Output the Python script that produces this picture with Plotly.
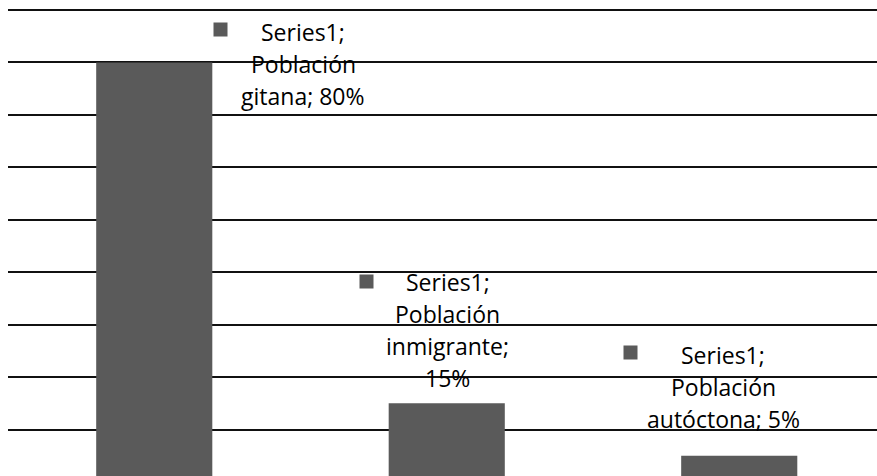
import plotly.graph_objects as go

# ---- data ----
series_name = "Series1"
categories = ["Población gitana", "Población inmigrante", "Población autóctona"]
values = [80, 15, 5]
gridline_values = [10, 20, 30, 40, 50, 60, 70, 80, 90]

# words per line for each data label (layout of the wrapped label text)
label_wrap = [[1, 1, 2], [1, 1, 1, 1], [1, 1, 2]]
# label placement relative to bar top / bar centre (pixels)
label_xshift = [149, 1, -16]
label_yshift_first = [30, 121, 101]
line_step = 32
key_shift = [(66, 33), (-80, 122), (-109, 103)]

bar_color = "#5a5a5a"
font_family = "Open Sans"
font_size = 23

fig = go.Figure()
fig.add_trace(go.Bar(
    x=categories, y=values,
    marker=dict(color=bar_color, line=dict(width=0)),
    width=0.397,
    hoverinfo="skip",
))

annotations = []
for i, (cat, val) in enumerate(zip(categories, values)):
    words = f"{series_name}; {cat}; {val}%".split()
    lines, k = [], 0
    for n in label_wrap[i]:
        lines.append(" ".join(words[k:k + n]))
        k += n
    for j, line in enumerate(lines):
        annotations.append(dict(
            x=cat, y=val, xref="x", yref="y", text=line, showarrow=False,
            xanchor="center", yanchor="middle",
            xshift=label_xshift[i], yshift=label_yshift_first[i] - j * line_step,
            font=dict(family=font_family, size=font_size, color="#000000"),
        ))
    kx, ky = key_shift[i]
    annotations.append(dict(
        x=cat, y=val, xref="x", yref="y", text=" ", showarrow=False,
        xanchor="center", yanchor="middle", xshift=kx, yshift=ky,
        width=13, height=13, bgcolor=bar_color, borderpad=0,
        font=dict(size=6),
    ))

fig.update_layout(
    width=877, height=476,
    margin=dict(l=8, r=0, t=0, b=0),
    paper_bgcolor="white", plot_bgcolor="white",
    showlegend=False,
    hovermode=False,
    annotations=annotations,
    xaxis=dict(range=[-0.5, 2.471], showticklabels=False, showgrid=False,
               zeroline=False, showline=False, ticks=""),
    yaxis=dict(range=[1.14, 91.91], tickvals=gridline_values, showticklabels=False,
               showgrid=True, gridcolor="#111111", gridwidth=2,
               zeroline=False, showline=False, ticks=""),
)

fig.write_html(
    "out.html",
    config={"displayModeBar": False, "staticPlot": True},
    post_script="document.body.style.margin='0';document.body.style.overflow='hidden';",
)
